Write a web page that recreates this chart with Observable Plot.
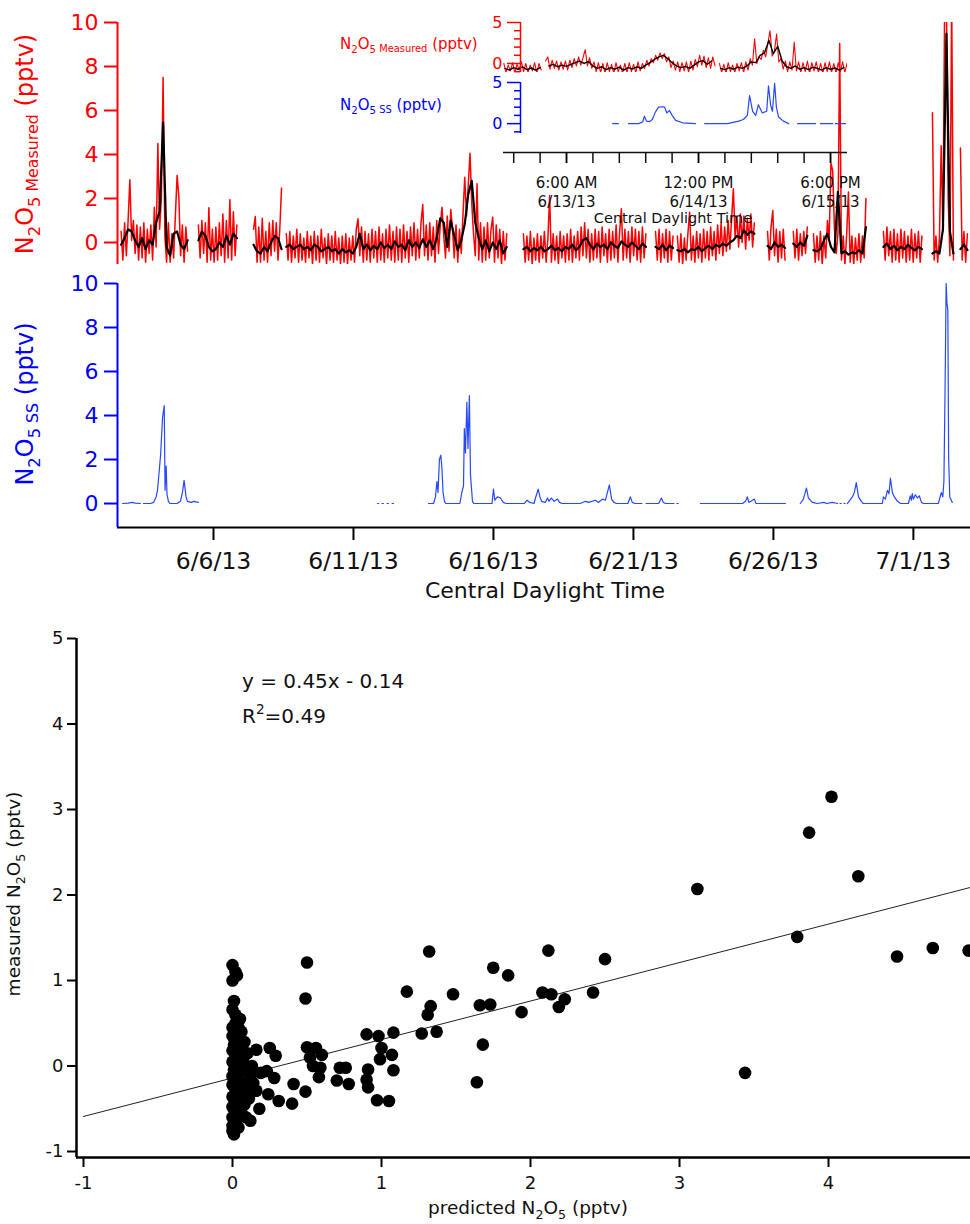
<!DOCTYPE html>
<html><head><meta charset="utf-8">
<script src="https://cdn.jsdelivr.net/npm/d3@7"></script>
<script src="https://cdn.jsdelivr.net/npm/@observablehq/plot@0.6"></script>
<style>
body{margin:0;background:#fff;}
#root{position:relative;width:970px;height:1224px;overflow:hidden;background:#fff;}
</style></head><body><div id="root"></div>
<script>
// ---------------- DATA ----------------
// Main time series: day of June 2013 (CDT); 32 = July 2
const measuredSegmentStart = [2.70, 5.46, 7.43, 8.60, 17.07, 21.79, 22.57, 25.79, 26.71, 27.43, 29.93, 31.68, 32.68];
// N2O5 measured, raw (red), 1.5 h spacing within each segment
const measuredRaw = [
 [0.5,-0.8,0.9,-0.6,1.0,2.85,0.1,1.0,-0.5,0.8,-0.8,0.7,-0.7,0.9,-0.9,0.6,-0.5,0.8,-0.8,1.6,-0.2,4.5,0.6,2.0,7.5,0.3,-0.9,0.9,-0.9,0.4,-0.7,1.2,3.05,2.06,-0.6,0.8,-0.9,0.7,-0.4],
 [0.8,-0.7,1.0,-0.5,0.9,-0.9,1.58,-0.8,0.6,-0.9,0.7,-0.8,0.9,-0.6,1.3,-0.9,1.0,-0.7,1.94,-0.8,1.4,-0.6,0.8],
 [0.6,1.18,-0.9,0.7,-0.9,1.1,-0.8,0.5,-0.9,0.9,-0.6,1.0,-0.4,0.9,-0.8,0.6,2.48],
 [0.4,-0.8,0.5,-0.9,0.3,-0.7,0.6,-0.9,0.4,-0.8,0.2,-0.9,0.5,-0.7,0.3,-1.0,
  0.5,-0.8,0.3,-0.9,0.6,-0.7,0.2,-1.0,0.4,-0.8,0.3,-0.9,0.5,-0.8,0.2,-1.0,
  0.3,-0.9,0.4,-1.0,0.2,-0.8,0.3,-0.9,0.6,1.08,-0.6,0.7,-0.9,0.5,-0.8,0.4,
  -0.9,0.6,-0.7,0.5,-0.9,0.7,-0.8,0.4,-0.9,0.6,-0.7,0.8,-0.8,0.5,-0.9,0.7,
  -0.8,0.6,-0.9,0.8,-0.7,0.5,-0.9,0.7,-0.6,0.9,-0.8,0.6,-0.7,0.9,1.73,-0.6,
  0.8,-0.8,0.9,-0.6,0.7,-0.9,1.0,-0.5,0.8,1.6,0.3,-0.7,1.2,-0.4,1.5,0.6,
  -0.7,0.8,-0.9,0.6,-0.5,1.3,2.97,1.2,2.6,4.06,1.8,0.4,-0.6,2.67,-0.8,0.9,
  -0.9,0.7,-0.8,0.9,-0.7,0.6,1.15,-0.9,0.8,-0.7,0.6,-1.0,0.5,-0.8,0.4],
 [0.4,-0.9,0.3,-0.8,0.5,-1.0,0.2,-0.8,0.4,-0.9,0.3,-0.7,0.5,-0.9,0.2,2.14,
  -0.9,0.4,-0.8,0.3,-1.0,0.5,-0.7,0.3,-0.9,0.4,-0.8,0.6,-0.9,0.3,-0.7,0.5,
  -0.8,0.7,-0.6,0.9,-0.7,0.6,-0.9,0.4,-0.8,0.6,-0.7,0.5,-0.9,0.7,-0.6,0.4,
  -0.9,0.6,-0.8,0.5,-0.7,0.8,-0.9,0.5,1.53,-0.8,0.6,-0.7,0.5,-0.9,0.7,-0.6,
  0.6,-0.8,0.5,-0.9,0.7,-0.7,0.4],
 [0.5,-0.8,0.6,-0.9,0.4,-0.7,0.6,-0.9,0.5,-0.8,0.3],
 [0.3,-0.9,0.4,-1.0,0.2,-0.8,0.4,1.38,-0.8,0.3,-0.9,0.5,-0.7,0.4,-0.9,0.6,
  -0.7,0.5,-0.8,0.7,-0.6,0.5,-0.8,0.8,-0.5,0.9,-0.6,0.7,-0.4,1.0,-0.3,1.1,
  2.44,0.2,1.2,-0.2,1.3,0.0,1.2,-0.3,1.1,0.1,1.3,-0.2,0.9],
 [0.5,-0.8,0.7,1.45,-0.6,0.6,-0.9,0.5,-0.7,0.6,-0.8],
 [0.5,-0.7,0.6,-0.8,0.4,-0.6,0.5,-0.5,0.7],
 [0.4,-0.9,0.3,-0.8,0.5,-1.0,0.3,-0.7,1.0,0.2,3.6,3.27,0.6,-0.5,0.4,9.05,-0.8,0.3,-1.0,0.4,2.3,-0.9,0.3,-1.0,0.2,-0.8,0.4,-0.9,0.3,-0.7,2.0],
 [0.5,-0.8,0.7,-0.6,0.5,-0.9,0.6,-0.8,0.4,-0.9,0.6,-0.7,0.5,-0.9,0.3,-0.8,0.6,-0.9,0.4,-0.7,0.5,-0.9,0.3],
 [5.9,-0.8,0.3,-0.9,0.2,4.4,0.5,11,11,2.0,-0.6,11,-0.8],
 [4.3,-0.8,0.5,-0.9,0.4]
];
// N2O5 measured, smoothed (black), 3 h spacing within each segment
const measuredSmooth = [
 [-0.1,0.2,0.6,0.5,0.1,-0.2,0.2,-0.3,0.1,-0.1,0.9,1.4,5.45,-0.2,-0.6,0.4,0.5,-0.1,-0.3,0.1],
 [0.1,0.5,0.3,-0.2,-0.4,-0.3,0.0,-0.2,0.3,-0.1,0.4,0.2],
 [-0.1,-0.4,-0.5,-0.2,-0.4,0.0,0.3,0.2,-0.3],
 [-0.2,-0.1,-0.3,-0.2,-0.1,-0.3,-0.2,-0.35,-0.1,-0.2,-0.4,-0.3,-0.2,-0.4,-0.3,-0.5,
  -0.3,-0.45,-0.35,-0.5,-0.2,0.4,-0.3,-0.1,-0.35,-0.15,-0.3,0.0,-0.25,-0.1,-0.3,0.05,
  -0.2,-0.1,-0.35,0.1,-0.2,0.0,-0.25,0.15,-0.2,0.1,-0.3,0.2,1.1,0.9,-0.2,1.0,
  0.3,-0.35,0.1,0.85,2.2,2.8,0.9,0.2,-0.3,0.1,-0.4,0.0,-0.3,0.1,-0.5,-0.2],
 [-0.3,-0.2,-0.4,-0.25,-0.35,-0.2,-0.4,-0.3,-0.15,-0.35,-0.25,-0.4,-0.2,-0.3,-0.1,-0.35,-0.2,0.1,0.2,-0.1,-0.3,-0.05,-0.2,-0.1,-0.3,0.0,-0.15,-0.25,0.05,-0.1,-0.2,0.0,-0.15,-0.3,-0.05,-0.2],
 [-0.2,-0.3,-0.1,-0.35,-0.15,-0.25],
 [-0.35,-0.4,-0.3,-0.45,-0.3,-0.35,-0.2,-0.4,-0.25,-0.15,-0.3,-0.1,-0.2,-0.05,-0.15,0.0,0.1,0.3,0.2,0.55,0.35,0.5,0.4],
 [-0.15,-0.3,0.0,-0.2,-0.1,-0.25],
 [-0.05,-0.2,0.0,-0.15,0.3],
 [-0.35,-0.4,-0.3,0.1,0.4,-0.2,-0.45,2.3,-0.5,-0.4,-0.55,-0.45,-0.5,-0.35,-0.5,0.7],
 [-0.2,-0.05,-0.3,-0.15,-0.35,-0.2,-0.3,-0.1,-0.25,-0.35,-0.2,-0.3],
 [-0.5,-0.4,-0.5,0.6,9.5,0.5,-0.5],
 [-0.3,-0.1,-0.35]
];
// N2O5 steady state (blue): [day of June, pptv]; null = data gap
const steadyState = [
 [2.75,0],[2.95,0.02],[3.1,0.05],[3.2,0.02],[3.39,0],null,
 [3.5,0],[3.75,0],[3.86,0.05],[3.95,0.3],[4.0,0.6],[4.07,1.6],[4.11,2.2],[4.18,3.9],[4.24,4.45],[4.27,0.6],[4.31,1.7],[4.34,0.4],[4.39,0.1],[4.45,0],[4.7,0],[4.82,0.1],[4.89,0.5],[4.95,1.05],[5.02,0.3],[5.07,0.1],[5.2,0.05],[5.3,0.1],[5.46,0.05],null,
 [11.86,0],[11.9,0],null,[12.02,0],[12.07,0],null,[12.2,0],[12.25,0],null,[12.38,0],[12.43,0],null,
 [13.68,0],[13.86,0],[13.93,0.3],[13.98,1.0],[14.02,0.5],[14.07,2.0],[14.12,2.2],[14.16,1.6],[14.2,0.5],[14.25,0.1],[14.3,0],[14.8,0],[14.87,0.5],[14.93,0.8],[14.96,3.4],[15.0,2.3],[15.05,4.6],[15.09,2.5],[15.14,4.9],[15.18,1.3],[15.25,0.1],[15.3,0],
 [15.95,0],[16.0,0.65],[16.05,0.15],[16.14,0.3],[16.25,0.25],[16.35,0.05],[16.45,0],[17.1,0],[17.2,0.15],[17.3,0.05],[17.45,0],[17.5,0.25],[17.6,0.65],[17.66,0.3],[17.72,0.1],[17.85,0.05],[17.93,0.25],[17.98,0.1],[18.07,0.25],[18.17,0.1],[18.29,0.2],[18.36,0.05],[18.45,0],
 [19.1,0],[19.29,0.1],[19.4,0.05],[19.64,0.15],[19.75,0.05],[19.89,0.2],[20.0,0.15],[20.14,0.85],[20.22,0.2],[20.3,0.05],[20.4,0],[20.8,0],[20.89,0.3],[20.96,0.05],[21.05,0],[21.3,0],null,
 [21.45,0],[21.9,0],[22.0,0.25],[22.07,0.05],[22.15,0],[22.45,0],null,[22.55,0],[22.6,0],null,
 [23.39,0],[24.9,0],[25.0,0.1],[25.07,0.3],[25.12,0.05],[25.2,0.1],[25.32,0.2],[25.38,0],[25.5,0],[26.43,0],null,
 [26.96,0],[27.07,0.2],[27.18,0.7],[27.25,0.25],[27.39,0.05],[27.57,0],[27.8,0.05],[27.9,0],[28.1,0.05],[28.29,0],null,[28.38,0],[28.42,0],null,[28.52,0],[28.56,0],null,
 [28.64,0],[28.82,0.3],[28.89,0.5],[28.96,0.95],[29.04,0.3],[29.14,0.1],[29.21,0],[29.89,0],[29.93,0.3],[30.0,0.2],[30.07,0.6],[30.13,0.45],[30.18,1.15],[30.25,0.5],[30.32,0.3],[30.43,0.1],[30.54,0],[30.82,0],[30.89,0.35],[30.93,0.15],[30.96,0.45],[31.0,0.2],[31.07,0.4],[31.14,0.25],[31.21,0.35],[31.29,0.05],[31.36,0],[31.5,0],[31.89,0],[32.0,0.5],[32.05,0.3],[32.09,1.0],[32.13,5.0],[32.17,10],[32.2,9.1],[32.23,8.8],[32.26,2.0],[32.3,0.3],[32.39,0.05]
];
const mainTickDays = [6, 11, 16, 21, 26, 31];
const measuredTicks = [0, 2, 4, 6, 8, 10];

// Inset: hours after 6/12/13 00:00 CDT
const insetSegmentStart = [15.75, 25.25, 64.75];
const insetRaw = [
 [0.0,-1.1,-0.2,-0.9,0.1,-1.2,-0.1,-0.8,0.2,-1.0,0.0,-1.1,-0.2,-0.9,0.1,-1.2,0.0,-0.8],
 [0.3,0.8,-0.7,0.4,-0.6,0.3,-0.8,0.2,-0.7,0.3,-0.8,0.4,-0.5,0.6,-0.3,0.8,-0.2,0.7,1.7,-0.3,
  0.7,-0.6,0.2,-1.0,0.1,-1.1,0.0,-1.2,0.1,-1.0,-0.1,-1.2,0.1,-1.0,-0.2,-1.2,0.0,-1.1,0.1,-1.0,
  -0.1,-1.1,0.2,-0.9,0.0,-0.6,0.4,-0.3,0.6,0.1,1.0,0.4,1.3,0.6,1.2,0.2,0.8,-0.5,0.3,-0.8,
  0.2,-1.0,0.1,-0.9,0.2,-1.1,0.3,-0.8,0.5,-0.4,1.0,-0.2,0.9,-0.5,0.7,-0.6,0.8,-0.3],
 [0.0,-1.1,-0.1,-1.2,0.1,-1.0,-0.2,-1.1,0.0,-0.9,0.1,-1.1,0.2,-0.8,0.6,-0.2,3.0,0.0,0.8,0.5,
  1.6,0.8,2.4,4.0,0.9,1.5,3.6,0.2,0.6,-0.7,0.3,-1.0,0.2,-0.8,2.6,-0.9,0.2,-1.1,0.1,-1.0,
  0.3,-1.2,0.1,-0.9,0.2,-1.1,0.0,-1.2,0.1,-1.0,0.2,-1.1,0.0,-1.2,0.1,-1.0,0.2,-1.1,0.0]
];
const insetSmoothStart = [16, 26, 65];
const insetSmooth = [
 [-0.6,-0.8,-0.5,-0.7,-0.4,-0.75,-0.55,-0.8,-0.5],
 [-0.3,-0.1,-0.4,-0.2,-0.35,-0.1,0.1,0.3,0.0,0.25,-0.3,-0.6,-0.4,-0.75,-0.5,-0.7,-0.45,-0.8,-0.5,-0.65,-0.4,-0.6,-0.2,0.1,0.5,0.8,1.0,0.6,0.1,-0.3,-0.5,-0.35,-0.6,-0.2,0.2,0.35,-0.1,0.3],
 [-0.6,-0.75,-0.5,-0.7,-0.45,-0.6,-0.3,0.2,0.1,1.0,1.3,2.8,1.2,2.1,0.3,-0.4,-0.6,-0.3,-0.7,-0.5,-0.75,-0.45,-0.6,-0.8,-0.5,-0.7,-0.55,-0.8,-0.5]
];
const insetSteadyState = [
 [40.5,0],[41.8,0],null,
 [44.1,0],[46.4,0],[47.3,0.2],[47.7,0.9],[48.2,0.3],[48.9,0.25],[49.5,0.5],[50.2,1.4],[50.9,2.0],[51.8,2.05],[52.3,2.0],[52.8,1.3],[53.4,1.6],[54.0,1.0],[54.8,0.4],[56.4,0.1],[59.3,0],null,
 [61.4,0],[66.6,0],[69.1,0.3],[70.2,0.5],[71.1,1.0],[71.6,3.4],[72.3,1.5],[73.0,1.0],[73.6,2.3],[74.5,1.3],[75.5,1.5],[75.9,4.6],[76.4,2.2],[76.8,1.5],[77.3,4.9],[77.7,2.0],[78.2,0.8],[79.3,0.3],[80.5,0],null,
 [82.5,0],[86.6,0],null,[87.7,0],[90.5,0],null,[91.1,0],[93.4,0]
];
const insetTickHours = [18, 24, 30, 36, 42, 48, 54, 60, 66, 72, 78, 84, 90];
const insetLabelHours = [30, 60, 90];
const insetMajorTicks = [0, 5];
const insetMinorTicks = [-1, 1, 2, 3, 4];

// Scatter: [predicted N2O5, measured N2O5] (pptv)
const scatterPoints = [
 [4.02,3.15],[3.87,2.73],[4.20,2.22],[3.12,2.07],[3.79,1.51],[4.46,1.28],[4.70,1.38],[4.94,1.35],[3.44,-0.08],
 [2.12,1.35],[2.50,1.25],[1.75,1.15],[1.85,1.06],[2.08,0.86],[2.14,0.84],[2.23,0.78],[2.19,0.69],[2.42,0.86],[1.94,0.63],[1.73,0.72],[1.66,0.71],[1.68,0.25],[1.64,-0.19],
 [1.32,1.34],[0.50,1.21],[0.49,0.79],[1.17,0.87],[1.48,0.84],[1.33,0.70],[1.31,0.60],[1.27,0.38],[1.37,0.40],
 [0.90,0.37],[0.98,0.35],[1.08,0.39],[1.00,0.21],[1.07,0.13],[0.99,0.08],[1.08,-0.05],[0.91,-0.04],[0.90,-0.16],[0.91,-0.25],[0.97,-0.40],[1.05,-0.41],
 [0.70,-0.17],[0.78,-0.21],[0.72,-0.02],[0.76,-0.02],[0.50,0.22],[0.56,0.21],[0.60,0.13],[0.52,0.10],[0.54,0.0],[0.59,-0.02],[0.58,-0.13],[0.41,-0.21],[0.49,-0.30],[0.40,-0.44],
 [0.25,0.21],[0.29,0.12],[0.16,0.19],[0.19,-0.08],[0.23,-0.06],[0.28,-0.14],[0.24,-0.33],[0.31,-0.41],[0.18,-0.50],[0.12,-0.64],[0.16,-0.29],
 [0.0,1.18],[0.02,1.10],[0.0,1.0],[0.03,1.06],[0.01,0.76],[0.0,0.66],[0.02,0.60],[0.05,0.55],[0.02,0.50],[0.0,0.45],[0.04,0.45],[0.06,0.40],[0.0,0.35],[0.03,0.30],[0.08,0.28],[0.01,0.25],[0.05,0.20],[0.0,0.18],[0.10,0.15],[0.02,0.12],[0.07,0.08],[0.0,0.05],[0.04,0.02],[0.13,0.0],[0.09,-0.02],[0.01,-0.05],[0.05,-0.08],[0.0,-0.12],[0.12,-0.10],[0.03,-0.15],[0.07,-0.20],[0.14,-0.20],[0.0,-0.22],[0.10,-0.25],[0.02,-0.28],[0.06,-0.32],[0.0,-0.36],[0.11,-0.38],[0.04,-0.42],[0.08,-0.45],[0.0,-0.48],[0.03,-0.52],[0.06,-0.55],[0.0,-0.60],[0.09,-0.60],[0.02,-0.65],[0.0,-0.70],[0.04,-0.72],[0.0,-0.76],[0.01,-0.80]
];
const fitSlope = 0.45, fitIntercept = -0.14, fitR2 = 0.49;
const scatterXTicks = [-1, 0, 1, 2, 3, 4];
const scatterYTicks = [-1, 0, 1, 2, 3, 4, 5];

// ---------------- BUILD ----------------
const DAY = 86400000, HOUR = 3600000;
const JUNE0 = Date.UTC(2013, 4, 31);
const JUNE12 = Date.UTC(2013, 5, 12);
const dayToDate = d => new Date(JUNE0 + d * DAY);
const hourToDate = h => new Date(JUNE12 + h * HOUR);

function segRows(starts, lists, step, conv) {
  const rows = [];
  lists.forEach((vals, s) => {
    vals.forEach((v, i) => rows.push({t: conv(starts[s] + i * step), v}));
    rows.push({t: conv(starts[s] + vals.length * step), v: NaN});
  });
  return rows;
}
function pairRows(pairs, conv) {
  let last = null;
  return pairs.map(p => {
    if (p == null) return {t: last, v: NaN};
    last = conv(p[0]);
    return {t: last, v: p[1]};
  });
}
const redRows = segRows(measuredSegmentStart, measuredRaw, 1.5 / 24, dayToDate);
const blackRows = segRows(measuredSegmentStart, measuredSmooth, 3 / 24, dayToDate);
const blueRows = pairRows(steadyState, dayToDate);
const insetRedRows = segRows(insetSegmentStart, insetRaw, 0.5, hourToDate);
const insetBlackRows = segRows(insetSmoothStart, insetSmooth, 1, hourToDate);
const insetBlueRows = pairRows(insetSteadyState, hourToDate);
const scatterRows = scatterPoints.map(([p, m]) => ({p, m}));

const FONT = "'DejaVu Sans', sans-serif";
const RED = "#ff0000", BLUE = "#0000ff", BLUE_LINE = "#2748ff";
const plain = d => String(d);
const root = document.getElementById("root");
function place(el, left, top) {
  el.style.position = "absolute"; el.style.left = left + "px"; el.style.top = top + "px";
  root.appendChild(el);
}
const baseStyle = {background: "transparent", fontFamily: FONT, overflow: "visible"};
const xMain = [dayToDate(2.571), dayToDate(33.04)];
const fmtDate = d3.utcFormat("%-m/%-d/%y");

// Top panel: measured
place(Plot.plot({
  width: 970, height: 270, marginLeft: 117, marginRight: 0, marginTop: 22, marginBottom: 6,
  style: baseStyle,
  x: {type: "utc", domain: xMain, axis: null},
  y: {domain: [-1, 10], axis: null},
  marks: [
    Plot.line(redRows, {x: "t", y: "v", stroke: RED, strokeWidth: 1.5, clip: true}),
    Plot.line(blackRows, {x: "t", y: "v", stroke: "black", strokeWidth: 2.2, clip: true}),
    Plot.ruleX([xMain[0]], {stroke: RED, strokeWidth: 2}),
    Plot.axisY({ticks: measuredTicks, tickFormat: plain, tickSize: 13, tickPadding: 6, color: RED, stroke: RED, fill: RED, strokeWidth: 2, fontSize: 22, label: null})
  ]
}), 0, 0);

// Middle panel: steady state
place(Plot.plot({
  width: 970, height: 340, marginLeft: 117, marginRight: 0, marginTop: 23, marginBottom: 73,
  style: baseStyle,
  x: {type: "utc", domain: xMain, axis: null},
  y: {domain: [-1.09, 10], axis: null},
  marks: [
    Plot.line(blueRows, {x: "t", y: "v", stroke: BLUE_LINE, strokeWidth: 1.2, clip: true}),
    Plot.ruleY([-1.09], {stroke: "black", strokeWidth: 2}),
    Plot.ruleX([xMain[0]], {stroke: BLUE, strokeWidth: 2}),
    Plot.axisY({ticks: measuredTicks, tickFormat: plain, tickSize: 13, tickPadding: 6, color: BLUE, stroke: BLUE, fill: BLUE, strokeWidth: 2, fontSize: 22, label: null}),
    Plot.axisX({ticks: mainTickDays.map(dayToDate), tickFormat: fmtDate, tickSize: 13, tickPadding: 12, strokeWidth: 2, fontSize: 23.5, label: null, fill: "#111"})
  ]
}), 0, 260);

// Inset (measured)
const xInset = [hourToDate(15.68), hourToDate(93.86)];
const insetCommon = {width: 410, height: 80, marginLeft: 63, marginRight: 3, style: baseStyle,
  x: {type: "utc", domain: xInset, axis: null}};
place(Plot.plot({
  ...insetCommon, marginTop: 22, marginBottom: 8,
  y: {domain: [-1.1, 5], axis: null},
  marks: [
    Plot.line(insetRedRows, {x: "t", y: "v", stroke: RED, strokeWidth: 1.1, clip: true}),
    Plot.line(insetBlackRows, {x: "t", y: "v", stroke: "black", strokeWidth: 1.4, clip: true}),
    Plot.ruleX([xInset[0]], {stroke: RED, strokeWidth: 1.5, dx: 17}),
    Plot.axisY({ticks: insetMajorTicks, tickFormat: plain, tickSize: 13, tickPadding: 5, dx: 17, color: RED, stroke: RED, fill: RED, strokeWidth: 1.5, fontSize: 16, label: null}),
    Plot.axisY({ticks: insetMinorTicks, tickSize: 6, dx: 17, tickFormat: () => "", color: RED, stroke: RED, strokeWidth: 1.5, label: null})
  ]
}), 440, 0);
// Inset (steady state)
place(Plot.plot({
  ...insetCommon, marginTop: 22, marginBottom: 7,
  y: {domain: [-1.2, 5], axis: null},
  marks: [
    Plot.line(insetBlueRows, {x: "t", y: "v", stroke: BLUE_LINE, strokeWidth: 1.2, clip: true}),
    Plot.ruleX([xInset[0]], {stroke: BLUE, strokeWidth: 1.5, dx: 17}),
    Plot.axisY({ticks: insetMajorTicks, tickFormat: plain, tickSize: 13, tickPadding: 5, dx: 17, color: BLUE, stroke: BLUE, fill: BLUE, strokeWidth: 1.5, fontSize: 16, label: null}),
    Plot.axisY({ticks: insetMinorTicks, tickSize: 6, dx: 17, tickFormat: () => "", color: BLUE, stroke: BLUE, strokeWidth: 1.5, label: null})
  ]
}), 440, 60);
// Inset x axis
const fmtTime = d3.utcFormat("%-I:%M %p");
place(Plot.plot({
  ...insetCommon, height: 90, marginTop: 11, marginBottom: 78,
  y: {domain: [0, 1], axis: null},
  marks: [
    Plot.ruleY([0], {stroke: "#111", strokeWidth: 1.5}),
    Plot.axisX({ticks: insetTickHours.map(hourToDate), tickFormat: () => "", tickSize: 11, strokeWidth: 1.5, stroke: "#111", label: null}),
    Plot.axisX({ticks: insetLabelHours.map(hourToDate), tickFormat: d => fmtTime(d) + "\n" + fmtDate(d), tickSize: 11, tickPadding: 11, strokeWidth: 1.5, fontSize: 15, lineHeight: 1.25, fill: "#111", label: null})
  ]
}), 440, 140);

// Scatter
const sx = [-1.047, 4.953], sy = [-1.07, 5];
const fitRows = [-1, sx[1]].map(x => ({x, y: fitSlope * x + fitIntercept}));
place(Plot.plot({
  width: 970, height: 624, marginLeft: 76, marginRight: 0, marginTop: 38, marginBottom: 67,
  style: baseStyle,
  x: {domain: sx, axis: null},
  y: {domain: sy, axis: null},
  marks: [
    Plot.line(fitRows, {x: "x", y: "y", stroke: "#222", strokeWidth: 1}),
    Plot.dot(scatterRows, {x: "p", y: "m", r: 6.3, fill: "black"}),
    Plot.ruleX([sx[0]], {stroke: "black", strokeWidth: 2.5}),
    Plot.ruleY([sy[0]], {stroke: "black", strokeWidth: 2.5}),
    Plot.axisY({ticks: scatterYTicks, tickFormat: plain, tickSize: 9, tickPadding: 4, strokeWidth: 2, fontSize: 18, fill: "#111", label: null}),
    Plot.axisX({ticks: scatterXTicks, tickFormat: plain, tickSize: 10, tickPadding: 9, strokeWidth: 2, fontSize: 18, fill: "#111", label: null})
  ]
}), 0, 600);

// ---------------- TEXT OVERLAY ----------------
const ov = d3.create("svg").attr("width", 970).attr("height", 1224)
  .style("position", "absolute").style("left", "0px").style("top", "0px")
  .style("font-family", FONT).style("pointer-events", "none").style("white-space", "pre");
root.appendChild(ov.node());
function rich(x, y, parts, {size, fill = "#111", anchor = "middle", rotate = 0}) {
  const t = ov.append("text").attr("transform", `translate(${x},${y}) rotate(${rotate})`)
    .attr("text-anchor", anchor).attr("fill", fill).attr("font-size", size);
  let cur = 0;
  for (const [txt, kind] of parts) {
    const shift = kind === "sub" ? size * 0.28 : kind === "subw" ? size * 0.22 : kind === "sup" ? -size * 0.45 : 0;
    const fs = kind === "n" ? size : kind === "subw" ? size * 0.66 : size * 0.68;
    t.append("tspan").attr("dy", shift - cur).attr("font-size", fs).text(txt);
    cur = shift;
  }
}
const n2o5 = (pre, post) => [[pre + "N", "n"], ["2", "sub"], ["O", "n"], ["5", "sub"], ...post];
rich(33, 144, n2o5("", [[" Measured", "subw"], [" (pptv)", "n"]]), {size: 24, fill: RED, rotate: -90});
rich(33, 404, n2o5("", [[" SS", "subw"], [" (pptv)", "n"]]), {size: 24, fill: BLUE, rotate: -90});
rich(545, 598, [["Central Daylight Time", "n"]], {size: 22});
rich(340, 49, n2o5("", [[" Measured", "subw"], [" (pptv)", "n"]]), {size: 15, fill: RED, anchor: "start"});
rich(340, 110, n2o5("", [[" SS", "subw"], [" (pptv)", "n"]]), {size: 15, fill: BLUE, anchor: "start"});
rich(673, 223, [["Central Daylight Time", "n"]], {size: 14.5});
rich(20, 894, n2o5("measured ", [[" (pptv)", "n"]]), {size: 18.5, rotate: -90});
rich(528, 1214, n2o5("predicted ", [[" (pptv)", "n"]]), {size: 18.5});
rich(242, 688, [[`y = ${fitSlope}x - ${Math.abs(fitIntercept)}`, "n"]], {size: 20, anchor: "start"});
rich(242, 723, [["R", "n"], ["2", "sup"], ["=" + fitR2, "n"]], {size: 20, anchor: "start"});
</script></body></html>
